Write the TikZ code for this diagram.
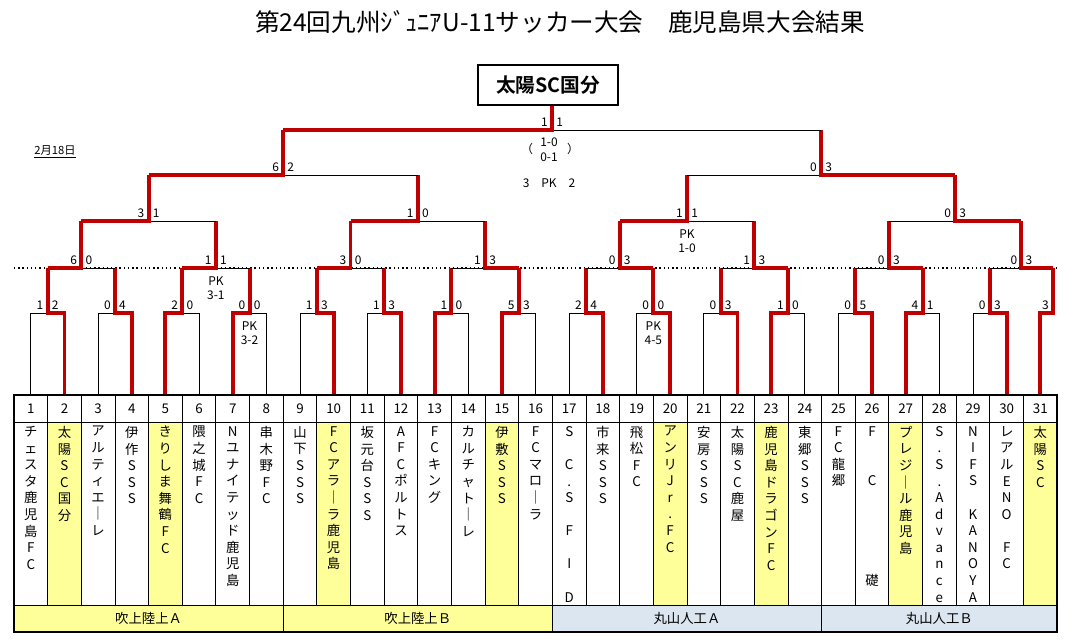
\documentclass[tikz,border=0pt]{standalone}
\usepackage{fontspec}
\setmainfont{Noto Sans CJK JP}[BoldFont={Noto Sans CJK JP Bold}]
\usetikzlibrary{calc,positioning}
\definecolor{winred}{HTML}{C00000}
\definecolor{padyellow}{HTML}{FFFF99}
\definecolor{padblue}{HTML}{DCE6F1}

\tikzset{
  line/.style={black,line width=0.6pt},
  win/.style={winred,line width=2.8pt,line join=miter},
  score/.style={font=\fontsize{8.5}{9}\selectfont,inner sep=0pt},
  pk/.style={font=\fontsize{8.5}{10}\selectfont,align=center,inner sep=0pt},
  teamname/.style={font=\fontsize{9.5}{11.8}\selectfont,align=center,anchor=north,inner sep=0pt},
}

% one round of the bracket: lower points, upper points, level, matches
\newcommand{\drawround}[4]{%
  \foreach \j/\w/\sl/\sr in {#4}{
    \pgfmathtruncatemacro\a{2*\j-1}
    \pgfmathtruncatemacro\b{2*\j}
    \pgfmathtruncatemacro\wn{2*\j-2+\w}
    \path ($(#1\a)!.5!(#1\b)$) coordinate (h);
    \coordinate (#2\j) at (h |- #3);
    \draw[line] (#1\a) -- (#1\b);
    \draw[line] (#2\j |- #1\a) -- (#2\j);
    \draw[win] (#1\wn) -- (#2\j |- #1\wn) -- (#2\j);
    \node[score,anchor=south east] at ($(#2\j |- #1\a)+(-4,-3)$) {\sl};
    \node[score,anchor=south west] at ($(#2\j |- #1\a)+(4,-3)$) {\sr};
  }}

\begin{document}
\begin{tikzpicture}[x=0.025cm,y=-0.025cm]
  \useasboundingbox[fill=white] (0,0) rectangle (1078,644);

  % ---- Title, date, champion ----------------------------------
  \node[font=\fontsize{17.5}{19}\selectfont] (title) at (560,22)
    {第24回九州ｼﾞｭﾆｱU-11サッカー大会　鹿児島県大会結果};
  \node[font=\fontsize{8}{9}\selectfont] (date) at (55,152) {\underline{2月18日}};
  \node[draw,line width=1.2pt,minimum width=3.5cm,minimum height=1cm,
        font=\fontsize{14}{16}\selectfont\bfseries] (champ) at (548,85) {太陽SC国分};

  % ---- Levels -------------------------------------------------
  \coordinate (r1) at (0,313);
  \coordinate (y1) at (0,268);
  \coordinate (y2) at (0,221);
  \coordinate (y3) at (0,175);
  \coordinate (y4) at (0,130);

  \foreach \k in {1,...,31}{
    \pgfmathsetmacro\cx{14+(\k-0.5)*33.65}
    \coordinate (t\k) at (\cx,395);
  }

  \draw[dotted,line width=1pt] (14,268) -- (1057,268);

  % ---- First round ---------------------------------------------
  \foreach \i/\w/\sl/\sr in {1/2/1/2,2/2/0/4,3/1/2/0,4/1/0/0,5/2/1/3,6/2/1/3,
      7/1/1/0,8/1/5/3,9/2/2/4,10/2/0/0,11/2/0/3,12/1/1/0,13/2/0/5,14/1/4/1,15/2/0/3}{
    \pgfmathtruncatemacro\a{2*\i-1}
    \pgfmathtruncatemacro\b{2*\i}
    \pgfmathtruncatemacro\wn{2*\i-2+\w}
    \path ($(t\a)!.5!(t\b)$) coordinate (h);
    \coordinate (e\i) at (h |- y1);
    \draw[line] (t\a) |- (t\b |- r1) -- (t\b);
    \draw[line] (e\i |- r1) -- (e\i);
    \draw[win] (t\wn) |- (e\i |- r1) -- (e\i);
    \node[score,anchor=south east] at ($(e\i |- r1)+(-4,-3)$) {\sl};
    \node[score,anchor=south west] at ($(e\i |- r1)+(4,-3)$) {\sr};
  }
  % bye for 31
  \coordinate (e16) at (1053,268);
  \draw[win] (t31) |- (e16 |- r1) -- (e16);
  \node[score,anchor=south east] at ($(e16 |- r1)+(-4,-3)$) {3};

  % ---- Later rounds --------------------------------------------
  \drawround{e}{m}{y2}{1/1/6/0,2/1/1/1,3/1/3/0,4/2/1/3,5/2/0/3,6/2/1/3,7/2/0/3,8/2/0/3}
  \drawround{m}{n}{y3}{1/1/3/1,2/1/1/0,3/1/1/1,4/2/0/3}
  \drawround{n}{q}{y4}{1/1/6/2,2/2/0/3}
  \drawround{q}{f}{champ.south}{1/1/1/1}

  % PK notes
  \node[pk] (pk1) at ($(e4 |- r1)+(0,20)$) {PK\\3-2};
  \node[pk] (pk2) at ($(e10 |- r1)+(0,20)$) {PK\\4-5};
  \node[pk] (pk3) at ($(m2 |- y1)+(0,20)$) {PK\\3-1};
  \node[pk] (pk4) at ($(n3 |- y2)+(0,20)$) {PK\\1-0};
  \node[pk] (finl) at (527,149) {（};
  \node[pk] (finr) at (573,149) {）};
  \node[pk] (fin1) at (549,142) {1-0};
  \node[pk] (fin2) at (549,157) {0-1};
  \node[pk] (fin3) at (549,183) {3\quad PK\quad 2};

  % ---- Team table ----------------------------------------------
  \foreach \k/\yel/\nm in {
      1/0/{チ\\ェ\\ス\\タ\\鹿\\児\\島\\F\\C},
      2/1/{太\\陽\\S\\C\\国\\分},
      3/0/{ア\\ル\\テ\\ィ\\エ\\｜\\レ},
      4/0/{伊\\作\\S\\S\\S},
      5/1/{き\\り\\し\\ま\\舞\\鶴\\F\\C},
      6/0/{隈\\之\\城\\F\\C},
      7/0/{N\\ユ\\ナ\\イ\\テ\\ッ\\ド\\鹿\\児\\島},
      8/0/{串\\木\\野\\F\\C},
      9/0/{山\\下\\S\\S\\S},
      10/1/{F\\C\\ア\\ラ\\｜\\ラ\\鹿\\児\\島},
      11/0/{坂\\元\\台\\S\\S\\S},
      12/0/{A\\F\\C\\ポ\\ル\\ト\\ス},
      13/0/{F\\C\\キ\\ン\\グ},
      14/0/{カ\\ル\\チ\\ャ\\ト\\｜\\レ},
      15/1/{伊\\敷\\S\\S\\S},
      16/0/{F\\C\\マ\\ロ\\｜\\ラ},
      17/0/{S\\~\\C\\.\\S\\~\\F\\~\\I\\~\\D},
      18/0/{市\\来\\S\\S\\S},
      19/0/{飛\\松\\F\\C},
      20/1/{ア\\ン\\リ\\J\\r\\.\\F\\C},
      21/0/{安\\房\\S\\S\\S},
      22/0/{太\\陽\\S\\C\\鹿\\屋},
      23/1/{鹿\\児\\島\\ド\\ラ\\ゴ\\ン\\F\\C},
      24/0/{東\\郷\\S\\S\\S},
      25/0/{F\\C\\龍\\郷},
      26/0/{F\\~\\~\\C\\~\\~\\~\\~\\~\\礎},
      27/1/{プ\\レ\\ジ\\｜\\ル\\鹿\\児\\島},
      28/0/{S\\.\\S\\.\\A\\d\\v\\a\\n\\c\\e},
      29/0/{N\\I\\F\\S\\~\\K\\A\\N\\O\\Y\\A},
      30/0/{レ\\ア\\ル\\E\\N\\O\\~\\F\\C},
      31/1/{太\\陽\\S\\C}}{
    \pgfmathsetmacro\xl{14+(\k-1)*33.65}
    \pgfmathsetmacro\xr{14+\k*33.65}
    \ifnum\yel=1
      \fill[padyellow] (\xl,422) rectangle (\xr,605);
    \fi
    \draw[line] (\xl,395) rectangle (\xr,605);
    \draw[line] (\xl,422) -- (\xr,422);
    \node[font=\fontsize{9.5}{10}\selectfont] (num\k) at ($(t\k)+(0,13.5)$) {\k};
    \node[teamname] (name\k) at ($(t\k)+(0,31)$) {\nm};
  }

  % ---- Venues ---------------------------------------------------
  \foreach \s/\e/\col/\venue in {1/8/padyellow/吹上陸上Ａ,9/16/padyellow/吹上陸上Ｂ,
      17/24/padblue/丸山人工Ａ,25/31/padblue/丸山人工Ｂ}{
    \pgfmathsetmacro\xl{14+(\s-1)*33.65}
    \pgfmathsetmacro\xr{14+\e*33.65}
    \draw[line,fill=\col] (\xl,605) rectangle (\xr,632);
    \node[font=\fontsize{9.5}{10}\selectfont] (venue\s) at ({(\xl+\xr)/2},618.5) {\venue};
  }
  \draw[line width=1.2pt] (14,395) rectangle (1057,632);
\end{tikzpicture}
\end{document}
